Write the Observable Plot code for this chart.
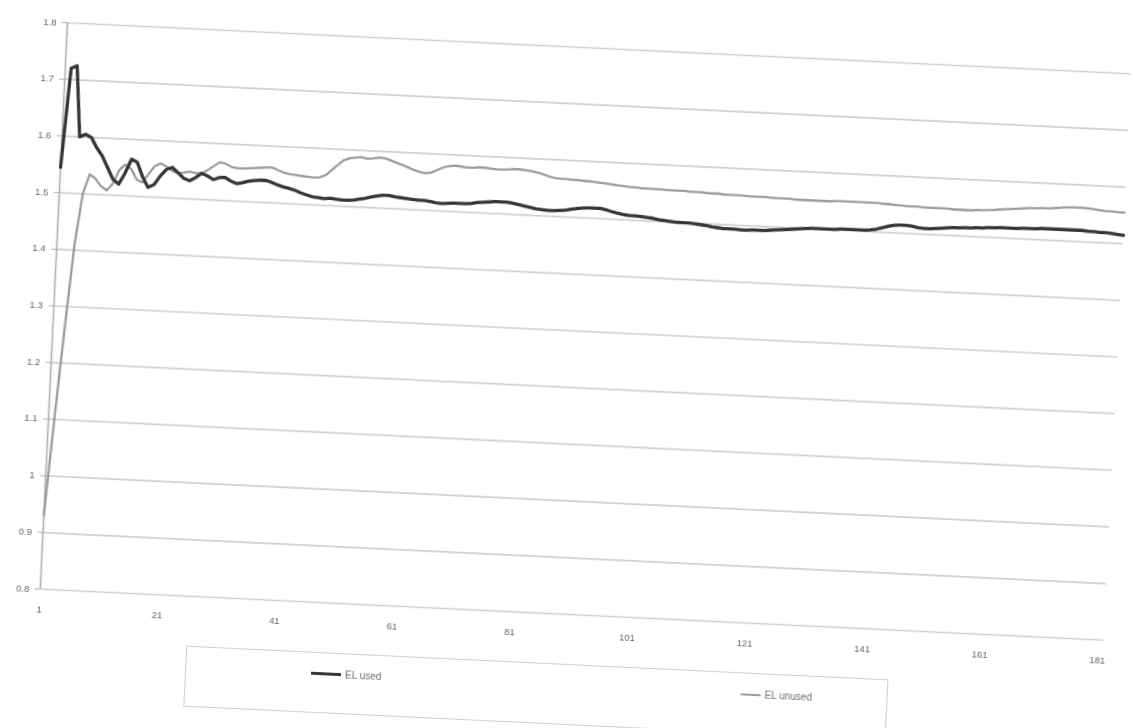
<!DOCTYPE html>
<html>
<head>
<meta charset="utf-8">
<script src="https://cdn.jsdelivr.net/npm/d3@7"></script>
<script src="https://cdn.jsdelivr.net/npm/@observablehq/plot@0.6"></script>
<style>
  html, body { margin: 0; padding: 0; background: #fff; overflow: hidden; width: 1133px; height: 728px; }
  #wrap { position: absolute; left: 0; top: 0; width: 1165px; height: 720px; transform-origin: 0 0; transform: rotate(2.75deg); filter: blur(0.6px); }
  #legend { position: absolute; left: 217px; top: 636px; width: 703px; height: 61px; border: 1px solid #cfcfcf; box-sizing: border-box; font-family: "Liberation Sans", Arial, sans-serif; font-size: 10px; color: #6e6e6e; }
  .item { position: absolute; top: 15px; display: flex; align-items: center; gap: 4px; }
  .swatch { display: inline-block; }
</style>
</head>
<body>
<div id="wrap">
  <div id="chart"></div>
  <div id="legend"></div>
</div>
<script>
const xTicks = [1, 21, 41, 61, 81, 101, 121, 141, 161, 181];
const yTicks = [0.8, 0.9, 1, 1.1, 1.2, 1.3, 1.4, 1.5, 1.6, 1.7, 1.8];
const seriesNames = ["EL used", "EL unused"];
const seriesColors = ["#363636", "#9c9c9c"];

const elUsed = [
1.545,1.720,1.725,1.600,1.605,1.600,1.582,1.568,1.548,1.528,
1.520,1.540,1.565,1.560,1.535,1.517,1.522,1.538,1.550,1.554,
1.545,1.536,1.532,1.538,1.546,1.542,1.536,1.540,1.541,1.535,
1.531,1.533,1.536,1.538,1.539,1.539,1.536,1.532,1.529,1.527,
1.524,1.520,1.517,1.514,1.513,1.512,1.513,1.512,1.511,1.511,
1.512,1.514,1.516,1.519,1.521,1.523,1.523,1.521,1.520,1.519,
1.518,1.517,1.517,1.516,1.514,1.513,1.514,1.515,1.515,1.515,
1.516,1.518,1.519,1.520,1.521,1.521,1.521,1.520,1.518,1.516,
1.514,1.512,1.511,1.510,1.510,1.511,1.512,1.514,1.516,1.517,
1.518,1.518,1.518,1.516,1.513,1.511,1.509,1.508,1.508,1.507,
1.506,1.505,1.503,1.502,1.501,1.500,1.500,1.500,1.499,1.498,
1.497,1.495,1.494,1.493,1.493,1.493,1.492,1.492,1.493,1.493,
1.493,1.494,1.495,1.496,1.497,1.498,1.499,1.500,1.501,1.501,
1.501,1.501,1.501,1.502,1.502,1.502,1.502,1.502,1.503,1.505,
1.508,1.511,1.513,1.514,1.514,1.513,1.511,1.510,1.510,1.511,
1.512,1.513,1.514,1.514,1.515,1.515,1.516,1.516,1.517,1.517,
1.518,1.518,1.518,1.518,1.519,1.519,1.519,1.520,1.520,1.520,
1.520,1.520,1.520,1.520,1.520,1.519,1.519,1.518,1.518,1.517,
1.516,1.515
];

const elUnused = [
0.930,1.100,1.260,1.410,1.500,1.535,1.528,1.515,1.508,1.520,
1.545,1.555,1.548,1.530,1.525,1.540,1.555,1.560,1.555,1.548,
1.544,1.546,1.548,1.546,1.546,1.552,1.560,1.567,1.565,1.560,
1.558,1.558,1.559,1.560,1.561,1.562,1.562,1.558,1.554,1.552,
1.551,1.550,1.549,1.548,1.549,1.553,1.562,1.572,1.581,1.585,
1.587,1.588,1.586,1.587,1.589,1.588,1.585,1.581,1.578,1.574,
1.570,1.567,1.565,1.567,1.572,1.577,1.580,1.581,1.580,1.579,
1.579,1.580,1.580,1.579,1.578,1.578,1.579,1.580,1.580,1.579,
1.578,1.576,1.573,1.570,1.568,1.567,1.567,1.566,1.566,1.565,
1.565,1.564,1.563,1.562,1.561,1.560,1.559,1.558,1.558,1.557,
1.557,1.557,1.557,1.556,1.556,1.556,1.556,1.555,1.555,1.555,
1.554,1.554,1.554,1.553,1.553,1.553,1.553,1.552,1.552,1.552,
1.552,1.551,1.551,1.551,1.551,1.550,1.550,1.550,1.550,1.550,
1.550,1.550,1.551,1.551,1.551,1.551,1.551,1.551,1.551,1.551,
1.550,1.550,1.549,1.549,1.548,1.548,1.548,1.547,1.547,1.547,
1.547,1.547,1.546,1.546,1.546,1.546,1.547,1.547,1.548,1.549,
1.550,1.551,1.552,1.553,1.554,1.555,1.555,1.556,1.556,1.557,
1.558,1.559,1.560,1.560,1.560,1.559,1.558,1.557,1.556,1.556,
1.555,1.555
];

const usedRows = elUsed.map((v, i) => ({obs: i + 1, value: v, series: seriesNames[0]}));
const unusedRows = elUnused.map((v, i) => ({obs: i + 1, value: v, series: seriesNames[1]}));

const chart = Plot.plot({
  width: 1165,
  height: 628,
  marginLeft: 68,
  marginRight: 32,
  marginTop: 19,
  marginBottom: 42,
  x: {domain: [1, 182]},
  y: {domain: [0.8, 1.8]},
  style: {fontFamily: "'Liberation Sans', Arial, sans-serif", background: "transparent", overflow: "visible"},
  marks: [
    Plot.ruleY(yTicks, {stroke: "#cfcfcf", strokeWidth: 1.7}),
    Plot.ruleX([1], {stroke: "#b0b0b0", strokeWidth: 1.6}),
    Plot.axisY({ticks: yTicks, tickSize: 5, tickPadding: 6, fontSize: 9.5, stroke: "#b0b0b0", fill: "#666", label: null,
      tickFormat: d => String(+d.toFixed(1))}),
    Plot.axisX({ticks: xTicks, tickSize: 0, tickPadding: 17, fontSize: 9.5, fill: "#666", label: null,
      tickFormat: d => String(d)}),
    Plot.line(unusedRows, {x: "obs", y: "value", stroke: seriesColors[1], strokeWidth: 2.3}),
    Plot.line(usedRows, {x: "obs", y: "value", stroke: seriesColors[0], strokeWidth: 3.3})
  ]
});
document.getElementById("chart").appendChild(chart);

const legend = document.getElementById("legend");
const legendPos = [{left: 125, w: 30, h: 3}, {left: 555, w: 20, h: 2}];
seriesNames.forEach((name, i) => {
  const item = document.createElement("div");
  item.className = "item";
  item.style.left = legendPos[i].left + "px";
  const sw = document.createElement("span");
  sw.className = "swatch";
  sw.style.width = legendPos[i].w + "px";
  sw.style.height = legendPos[i].h + "px";
  sw.style.background = seriesColors[i];
  const tx = document.createElement("span");
  tx.textContent = name;
  item.appendChild(sw);
  item.appendChild(tx);
  legend.appendChild(item);
});
</script>
</body>
</html>
